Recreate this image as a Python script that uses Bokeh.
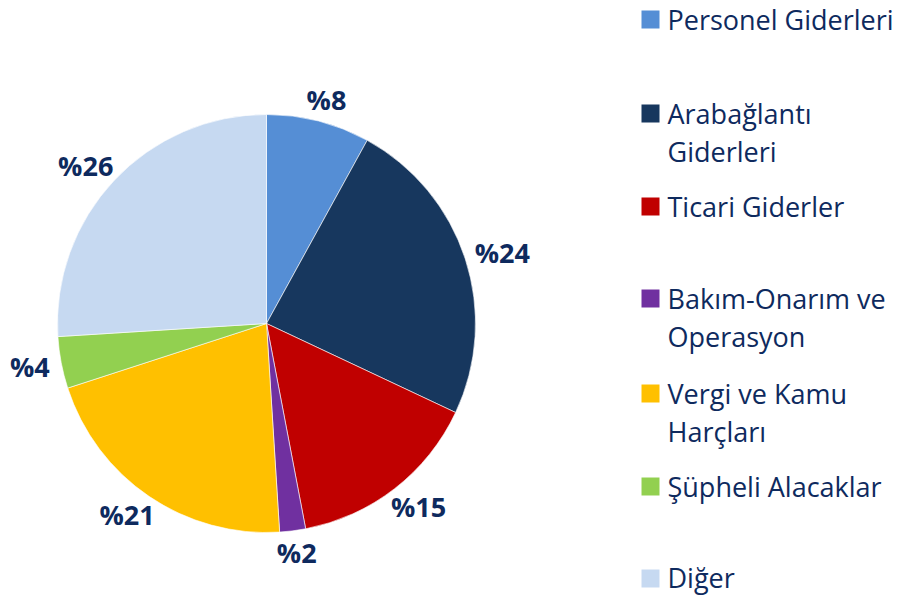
import math
from bokeh.plotting import figure
from bokeh.models import Range1d, ColumnDataSource
from bokeh.core.properties import value
from bokeh.embed import file_html
from bokeh.resources import INLINE

# ---- data ----
categories = ["Personel Giderleri", "Arabağlantı Giderleri", "Ticari Giderler",
              "Bakım-Onarım ve Operasyon", "Vergi ve Kamu Harçları",
              "Şüpheli Alacaklar", "Diğer"]
shares = [8, 24, 15, 2, 21, 4, 26]
colors = ["#558ED5", "#17375E", "#C00000", "#7030A0", "#FFC000", "#92D050", "#C6D9F1"]
legend_lines = [["Personel Giderleri"], ["Arabağlantı", "Giderleri"], ["Ticari Giderler"],
                ["Bakım-Onarım ve", "Operasyon"], ["Vergi ve Kamu", "Harçları"],
                ["Şüpheli Alacaklar"], ["Diğer"]]

# ---- layout (screen px, y measured from top of window) ----
W, H = 914, 596
CX, CY, R = 266, 323, 209
LABEL_GAP = 12
legend_square_y = [19, 113, 206, 298, 393, 486, 578]
legend_baselines = [[28], [122, 160], [215], [307, 345], [402, 440], [495], [586]]
BASELINE_FIX = 9
TEXT_COLOR = "#0E2A5E"
FONT = "Open Sans"

def ys(screen_y):
    return H - screen_y

p = figure(width=W, height=H, output_backend="svg", toolbar_location=None,
           x_range=Range1d(0, W), y_range=Range1d(0, H),
           min_border=0, outline_line_color=None)
p.axis.visible = False
p.grid.visible = False
p.background_fill_color = "white"
p.border_fill_color = "white"

total = float(sum(shares))
starts, ends, lx, ly, labels = [], [], [], [], []
cum = 0.0
for s in shares:
    a0 = math.pi / 2 - 2 * math.pi * cum / total
    a1 = math.pi / 2 - 2 * math.pi * (cum + s) / total
    starts.append(a1)
    ends.append(a0)
    mid = (a0 + a1) / 2
    lab = "%" + str(s)
    hw = (14 * len(lab) + 12) / 2.0
    hh = 10
    c, sn = math.cos(mid), math.sin(mid)
    lx.append(CX + (R + LABEL_GAP) * c + hw * c)
    ly.append(ys(CY) + (R + LABEL_GAP) * sn + hh * sn)
    labels.append(lab)
    cum += s

src = ColumnDataSource(dict(start=starts, end=ends, color=colors,
                            x=[CX] * len(shares), y=[ys(CY)] * len(shares)))
p.wedge(x="x", y="y", radius=R, start_angle="start", end_angle="end",
        fill_color="color", line_color="white", line_width=0.6, source=src)

p.text(x=lx, y=ly, text=labels, text_font=value(FONT), text_font_size="27px",
       text_font_style="bold", text_color=TEXT_COLOR, text_align="center",
       text_baseline="middle")

# legend
p.rect(x=[650] * len(colors), y=[ys(v) for v in legend_square_y], width=18, height=18,
       fill_color=colors, line_color=None)
tx, ty, tt = [], [], []
for lines, bases in zip(legend_lines, legend_baselines):
    for t, b in zip(lines, bases):
        tx.append(667)
        ty.append(ys(b - BASELINE_FIX))
        tt.append(t)
p.text(x=tx, y=ty, text=tt, text_font=value(FONT), text_font_size="27px",
       text_color=TEXT_COLOR, text_align="left", text_baseline="alphabetic")

open("out.html", "w").write(file_html(p, INLINE))
